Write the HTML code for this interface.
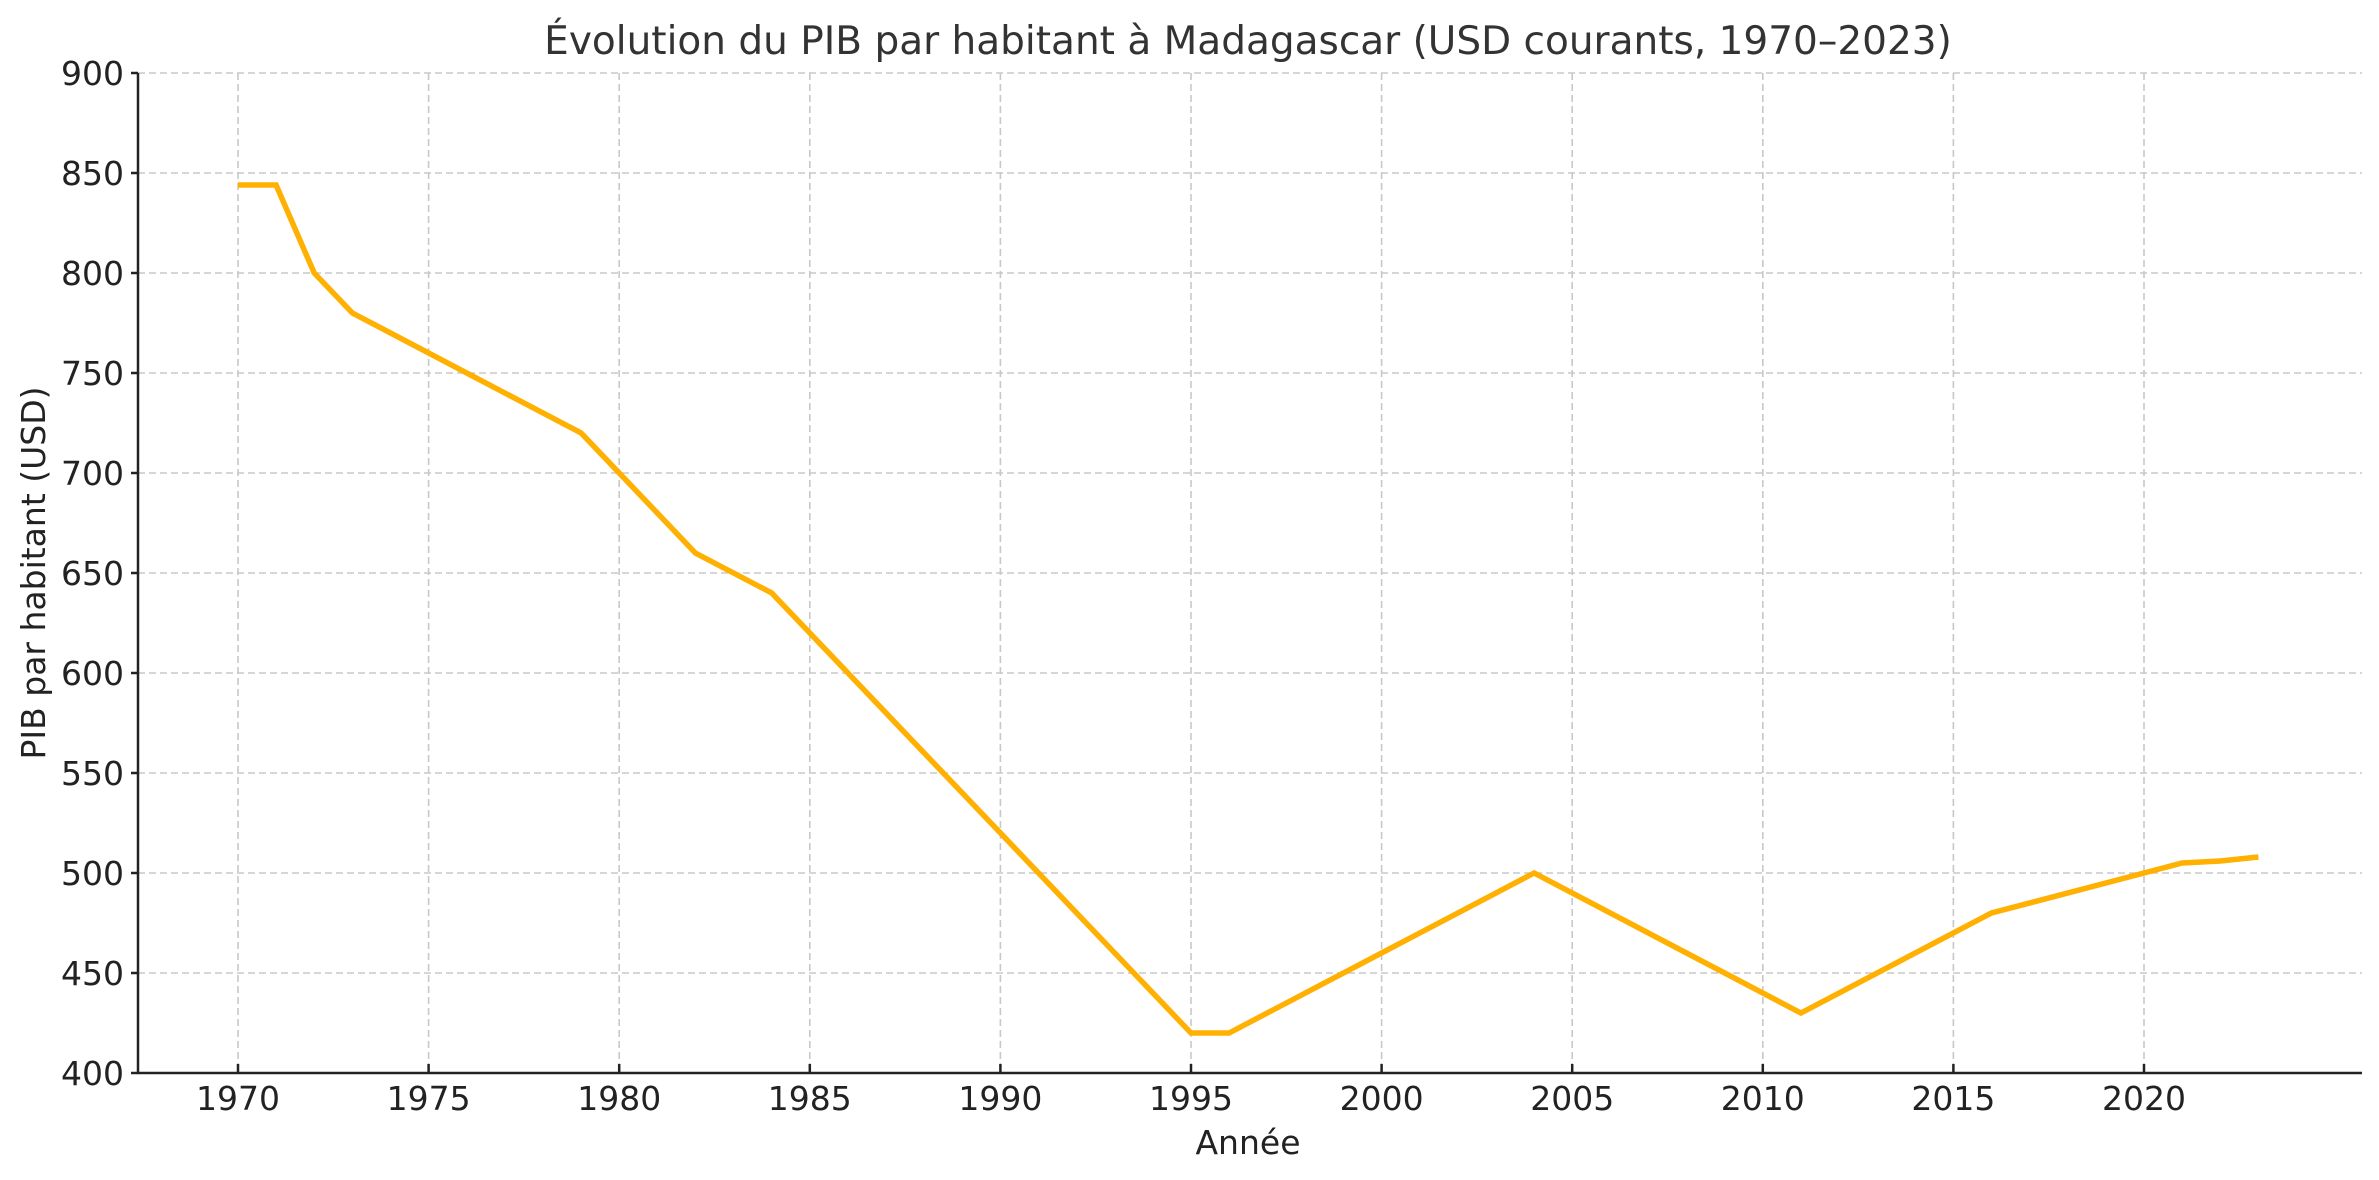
<!DOCTYPE html>
<html><head><meta charset="utf-8"><style>
html,body{margin:0;padding:0;background:#fff;}
svg{display:block;}
text{font-family:"DejaVu Sans","Liberation Sans",sans-serif;}
</style></head><body>
<svg width="2379" height="1180" viewBox="0 0 2379 1180" xmlns="http://www.w3.org/2000/svg">
<rect width="2379" height="1180" fill="#fff"/>
<g stroke="#c8c8c8" stroke-width="1.6" stroke-dasharray="7,4" fill="none">
<line x1="138" y1="73" x2="2362" y2="73"/>
<line x1="138" y1="173" x2="2362" y2="173"/>
<line x1="138" y1="273" x2="2362" y2="273"/>
<line x1="138" y1="373" x2="2362" y2="373"/>
<line x1="138" y1="473" x2="2362" y2="473"/>
<line x1="138" y1="573" x2="2362" y2="573"/>
<line x1="138" y1="673" x2="2362" y2="673"/>
<line x1="138" y1="773" x2="2362" y2="773"/>
<line x1="138" y1="873" x2="2362" y2="873"/>
<line x1="138" y1="973" x2="2362" y2="973"/>
<line x1="238" y1="73" x2="238" y2="1073"/>
<line x1="428.6" y1="73" x2="428.6" y2="1073"/>
<line x1="619.2" y1="73" x2="619.2" y2="1073"/>
<line x1="809.8" y1="73" x2="809.8" y2="1073"/>
<line x1="1000.4" y1="73" x2="1000.4" y2="1073"/>
<line x1="1191" y1="73" x2="1191" y2="1073"/>
<line x1="1381.6" y1="73" x2="1381.6" y2="1073"/>
<line x1="1572.2" y1="73" x2="1572.2" y2="1073"/>
<line x1="1762.8" y1="73" x2="1762.8" y2="1073"/>
<line x1="1953.4" y1="73" x2="1953.4" y2="1073"/>
<line x1="2144" y1="73" x2="2144" y2="1073"/>
</g>
<g stroke="#222" stroke-width="2.5">
<line x1="138" y1="73" x2="138" y2="1074"/>
<line x1="137" y1="1073" x2="2362" y2="1073"/>
<line x1="131" y1="73" x2="138" y2="73"/><line x1="131" y1="173" x2="138" y2="173"/><line x1="131" y1="273" x2="138" y2="273"/><line x1="131" y1="373" x2="138" y2="373"/><line x1="131" y1="473" x2="138" y2="473"/><line x1="131" y1="573" x2="138" y2="573"/><line x1="131" y1="673" x2="138" y2="673"/><line x1="131" y1="773" x2="138" y2="773"/><line x1="131" y1="873" x2="138" y2="873"/><line x1="131" y1="973" x2="138" y2="973"/><line x1="131" y1="1073" x2="138" y2="1073"/>
<line x1="238" y1="1064" x2="238" y2="1073"/><line x1="428.6" y1="1064" x2="428.6" y2="1073"/><line x1="619.2" y1="1064" x2="619.2" y2="1073"/><line x1="809.8" y1="1064" x2="809.8" y2="1073"/><line x1="1000.4" y1="1064" x2="1000.4" y2="1073"/><line x1="1191" y1="1064" x2="1191" y2="1073"/><line x1="1381.6" y1="1064" x2="1381.6" y2="1073"/><line x1="1572.2" y1="1064" x2="1572.2" y2="1073"/><line x1="1762.8" y1="1064" x2="1762.8" y2="1073"/><line x1="1953.4" y1="1064" x2="1953.4" y2="1073"/><line x1="2144" y1="1064" x2="2144" y2="1073"/>
</g>
<polyline fill="none" stroke="#FFB000" stroke-width="5.5" stroke-linejoin="miter" points="238,185 276.1,185 314.2,273 352.4,313 581.1,433 695.4,553 771.7,593 1191,1033 1229.1,1033 1534.1,873 1800.9,1013 1991.5,913 2144,873 2182.1,863 2220.2,861 2258.4,857"/>
<g fill="#222" font-size="33" text-anchor="end">
<text x="124" y="85">900</text><text x="124" y="185">850</text><text x="124" y="285">800</text><text x="124" y="385">750</text><text x="124" y="485">700</text><text x="124" y="585">650</text><text x="124" y="685">600</text><text x="124" y="785">550</text><text x="124" y="885">500</text><text x="124" y="985">450</text><text x="124" y="1085">400</text>
</g>
<g fill="#222" font-size="33" text-anchor="middle">
<text x="238" y="1110">1970</text><text x="428.6" y="1110">1975</text><text x="619.2" y="1110">1980</text><text x="809.8" y="1110">1985</text><text x="1000.4" y="1110">1990</text><text x="1191" y="1110">1995</text><text x="1381.6" y="1110">2000</text><text x="1572.2" y="1110">2005</text><text x="1762.8" y="1110">2010</text><text x="1953.4" y="1110">2015</text><text x="2144" y="1110">2020</text>
<text x="1248" y="1154">Année</text>
<text x="0" y="0" transform="translate(45,573) rotate(-90)">PIB par habitant (USD)</text>
<text x="1248" y="54" font-size="39" fill="#333">Évolution du PIB par habitant à Madagascar (USD courants, 1970–2023)</text>
</g>
</svg>
</body></html>
